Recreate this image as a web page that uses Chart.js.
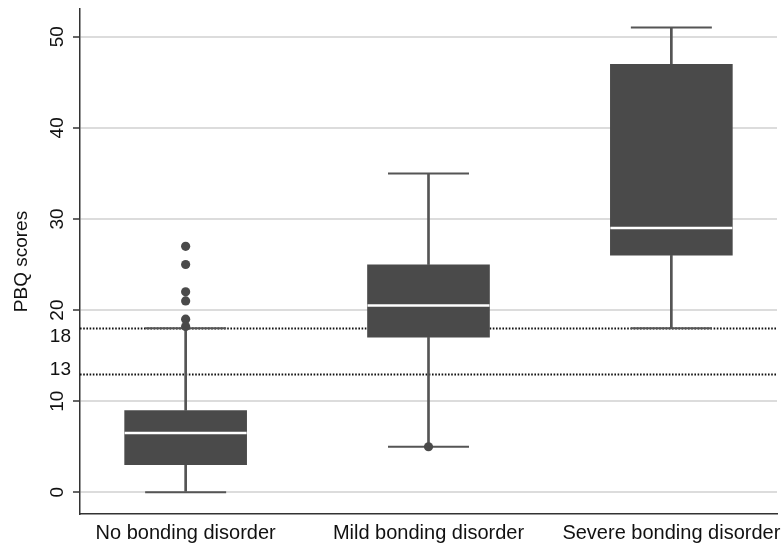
<!DOCTYPE html>
<html>
<head>
<meta charset="utf-8">
<script src="https://cdn.jsdelivr.net/npm/chart.js@4"></script>
<style>
  html, body { margin: 0; padding: 0; background: #fff; }
  #wrap { width: 783px; height: 545px; position: relative; }
</style>
</head>
<body>
<div id="wrap"><canvas id="c"></canvas></div>
<script>
// ---- data ----
const categories = ['No bonding disorder', 'Mild bonding disorder', 'Severe bonding disorder'];
const whiskerLow  = [0, 5, 18];
const q1          = [3, 17, 26];
const medians     = [6.5, 20.5, 29];
const q3          = [9, 25, 47];
const whiskerHigh = [18, 35, 51];
const outliersNo     = [27, 25, 22, 21, 19, 18.2];
const outliersMild   = [5];
const outliersSevere = [];
const yTicks = [0, 10, 20, 30, 40, 50];
const cutoffs = [18, 13];
const yTitle = 'PBQ scores';

// ---- styles ----
const BOX = '#4a4a4a';
const LINE = '#555555';
const TEXT = '#111111';
const FONT = "'Liberation Sans', Arial, sans-serif";

const idx = i => i + 1;
const outlierPoints = []
  .concat(outliersNo.map(v => ({ x: 1, y: v })))
  .concat(outliersMild.map(v => ({ x: 2, y: v })))
  .concat(outliersSevere.map(v => ({ x: 3, y: v })));

const refPlugin = {
  id: 'refLines',
  beforeDatasetsDraw(chart) {
    const { ctx, chartArea, scales: { y } } = chart;
    ctx.save();
    ctx.strokeStyle = '#111111';
    ctx.lineWidth = 2;
    ctx.setLineDash([1.6, 1.6]);
    cutoffs.forEach(v => {
      const py = Math.round(y.getPixelForValue(v)) + 0.5;
      ctx.beginPath();
      ctx.moveTo(chartArea.left, py);
      ctx.lineTo(chartArea.right, py);
      ctx.stroke();
    });
    ctx.restore();
  },
  afterDraw(chart) {
    const { ctx, scales: { y } } = chart;
    ctx.save();
    ctx.fillStyle = TEXT;
    ctx.font = "19px " + FONT;
    ctx.textAlign = 'right';
    ctx.textBaseline = 'middle';
    // 18 label sits slightly below its line, 13 slightly above (as in the original)
    const offs = { 18: 8.5, 13: -4 };
    cutoffs.forEach(v => {
      ctx.fillText(String(v), 71, y.getPixelForValue(v) + (offs[v] || 0));
    });
    ctx.restore();
  }
};

new Chart(document.getElementById('c'), {
  type: 'bar',
  data: {
    datasets: [
      {
        type: 'scatter', label: 'median', order: 0,
        data: medians.map((v, i) => ({ x: idx(i), y: v })),
        pointStyle: 'line', radius: 61, borderWidth: 2.5,
        borderColor: '#ffffff', backgroundColor: '#ffffff'
      },
      {
        type: 'scatter', label: 'outliers', order: 1,
        data: outlierPoints,
        pointStyle: 'circle', radius: 4.6, borderWidth: 0,
        backgroundColor: BOX, borderColor: BOX
      },
      {
        type: 'scatter', label: 'caps', order: 2,
        data: whiskerLow.map((v, i) => ({ x: idx(i), y: v }))
          .concat(whiskerHigh.map((v, i) => ({ x: idx(i), y: v }))),
        pointStyle: 'line', radius: 40.5, borderWidth: 2,
        borderColor: LINE, backgroundColor: LINE
      },
      {
        type: 'bar', label: 'box', order: 3, grouped: false,
        data: q1.map((v, i) => ({ x: idx(i), y: [v, q3[i]] })),
        backgroundColor: BOX, borderWidth: 0,
        categoryPercentage: 1, barPercentage: 0.505
      },
      {
        type: 'bar', label: 'lowWhisker', order: 4, grouped: false,
        data: whiskerLow.map((v, i) => ({ x: idx(i), y: [v, q1[i]] })),
        backgroundColor: LINE, borderWidth: 0, barThickness: 2
      },
      {
        type: 'bar', label: 'highWhisker', order: 4, grouped: false,
        data: q3.map((v, i) => ({ x: idx(i), y: [v, whiskerHigh[i]] })),
        backgroundColor: LINE, borderWidth: 0, barThickness: 2
      }
    ]
  },
  options: {
    responsive: true,
    maintainAspectRatio: false,
    animation: false,
    events: [],
    layout: { autoPadding: false, padding: { top: 9, right: 6, bottom: 0, left: 0 } },
    plugins: { legend: { display: false }, tooltip: { enabled: false } },
    scales: {
      x: {
        type: 'linear',
        offset: false,
        min: 0.565, max: 3.435,
        afterBuildTicks: s => { s.ticks = categories.map((c, i) => ({ value: idx(i) })); },
        afterFit: s => { s.height = 31; s.paddingLeft = 0; s.paddingRight = 0; },
        grid: { display: false, drawTicks: false, offset: false },
        border: { display: true, color: '#333', width: 1.5 },
        ticks: {
          autoSkip: false, maxRotation: 0, minRotation: 0, padding: 7,
          color: TEXT, font: { family: FONT, size: 20 },
          callback: v => categories[v - 1] || ''
        }
      },
      y: {
        type: 'linear',
        min: -2.38, max: 53.04,
        afterBuildTicks: s => { s.ticks = yTicks.map(v => ({ value: v })); },
        afterFit: s => { s.width = 80; s.paddingTop = 0; s.paddingBottom = 0; },
        grid: {
          color: '#dcdcdc', lineWidth: 2,
          tickColor: '#333', tickLength: 7, tickWidth: 1.5
        },
        border: { display: true, color: '#333', width: 1.5 },
        ticks: {
          minRotation: 90, maxRotation: 90, crossAlign: 'center', padding: 5,
          color: TEXT, font: { family: FONT, size: 19 }
        },
        title: {
          display: true, text: yTitle, color: TEXT,
          font: { family: FONT, size: 19 },
          padding: { top: 10, bottom: 0 }
        }
      }
    }
  },
  plugins: [refPlugin]
});
</script>
</body>
</html>
